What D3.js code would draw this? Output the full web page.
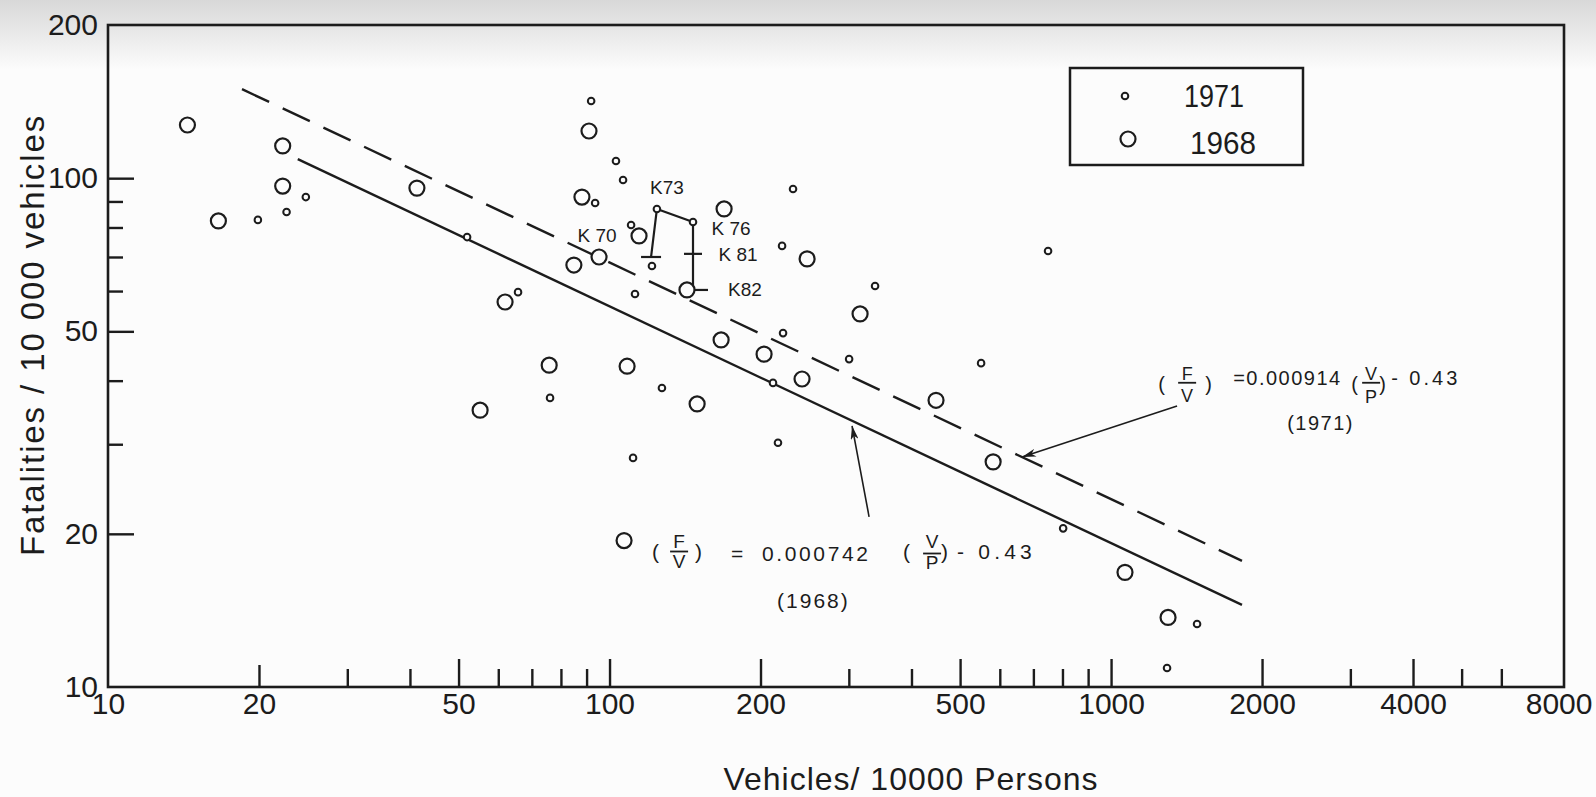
<!DOCTYPE html>
<head>
<meta charset="utf-8">
<title>Fatalities vs vehicles</title>
<script src="https://cdn.jsdelivr.net/npm/d3@7"></script>
<style>
  body { margin: 0; background: #fcfcfc; }
  svg { display: block; }
  text { font-family: "Liberation Sans", Arial, sans-serif; fill: #1c1c1c; }
</style>
</head>
<body>
<div id="container"></div>
<script>

// Axes
const xTickValues = [10, 20, 30, 40, 50, 60, 70, 80, 90, 100, 200, 300, 400, 500, 600, 700, 800, 900,
                     1000, 2000, 3000, 4000, 5000, 6000, 8000];
const xLabelValues = [10, 20, 50, 100, 200, 500, 1000, 2000, 4000, 8000];
const yTickValues = [10, 20, 30, 40, 50, 60, 70, 80, 90, 100, 200];
const yLabelValues = [10, 20, 50, 100, 200];

// 1968 (gros cercles)
const veh1968 = [14.4, 22.3, 22.3, 16.6, 41.3, 91.0, 88.1, 84.9, 95.3, 114.5, 61.9, 75.8, 108.4, 55.2,
                 106.9, 169.2, 247.7, 142.7, 315.9, 166.9, 203.3, 242.0, 149.5, 447.7, 581.9, 1066, 1299];
const fat1968 = [127.2, 115.7, 96.5, 82.4, 95.6, 123.8, 91.8, 67.5, 70.0, 77.0, 57.1, 42.9, 42.7, 35.0,
                 19.4, 87.0, 69.4, 60.3, 54.1, 48.1, 45.1, 40.3, 36.0, 36.6, 27.7, 16.8, 13.7];

// 1971 (petits cercles)
const veh1971 = [91.9, 24.8, 22.7, 19.9, 52.0, 103.0, 106.4, 93.6, 110.4, 112.4, 65.7, 76.1, 232.2, 124.3,
                 146.7, 121.5, 220.8, 338.4, 221.8, 300.4, 550.6, 748.8, 127.2, 211.8, 216.7, 111.4,
                 802.5, 1484, 1293];
const fat1971 = [141.8, 91.8, 85.8, 82.8, 76.6, 108.1, 99.2, 89.4, 80.9, 59.2, 59.7, 37.0, 95.2, 87.0,
                 82.0, 67.2, 73.6, 61.4, 49.6, 44.1, 43.3, 71.9, 38.7, 39.6, 30.2, 28.2, 20.5, 13.3, 10.9];

// trajectoire K (1970 -> 1982)
const kLabels = ["K 70", "K73", "K 76", "K 81", "K82"];
const kVeh = [121.0, 124.3, 146.7, 146.7, 146.7];
const kFat = [70.0, 87.0, 82.0, 71.0, 60.3];

// droites de régression : 1968 (continue), 1971 (tirets)
const fitYears = ["1968", "1971"];
const fitVeh0 = [23.9, 18.5];
const fitFat0 = [109, 149.6];
const fitVeh1 = [1824, 1824];
const fitFat1 = [14.5, 17.7];
const arrowVeh = [304.5, 664.5];   // pointe des flèches sur chaque droite

const ink = "#1c1c1c";
const W = 1596, H = 797;
const mLeft = 108, mRight = 1564, mTop = 25, mBottom = 687;

const svg = d3.select("#container").append("svg")
    .attr("width", W).attr("height", H);

// ombre du scan en haut
const defs = svg.append("defs");
const grad = defs.append("linearGradient")
    .attr("id", "shade").attr("x1", 0).attr("y1", 0).attr("x2", 0).attr("y2", 1);
grad.append("stop").attr("offset", 0).attr("stop-color", "#d8d8d8");
grad.append("stop").attr("offset", 1).attr("stop-color", "#fcfcfc");
svg.append("rect").attr("x", 0).attr("y", 0).attr("width", W).attr("height", 70).attr("fill", "url(#shade)");

defs.append("marker")
    .attr("id", "head").attr("viewBox", "0 0 14 8")
    .attr("refX", 14).attr("refY", 4)
    .attr("markerWidth", 14).attr("markerHeight", 8)
    .attr("markerUnits", "userSpaceOnUse")
    .attr("orient", "auto")
    .append("path").attr("d", "M0,0 L14,4 L0,8 L4,4 Z").attr("fill", ink);

// Échelles
const x = d3.scaleLog().domain([10, 8000]).range([mLeft, mRight]);
const y = d3.scaleLog().domain([10, 200]).range([mBottom, mTop]);

// Axe x
const xMajor = [50, 100, 200, 500, 1000, 2000, 4000];
const gx = svg.append("g").attr("transform", `translate(0,${mBottom})`)
    .call(d3.axisBottom(x).tickValues(xTickValues).tickSize(-18).tickPadding(6)
        .tickFormat(d => xLabelValues.includes(d) ? d : ""));
gx.select(".domain").remove();
gx.selectAll(".tick line")
    .attr("stroke", ink).attr("stroke-width", 2.4)
    .attr("y2", d => (d === 10 || d === 8000) ? 0 : xMajor.includes(d) ? -28 : d === 20 ? -22 : -18);
gx.selectAll(".tick text")
    .attr("font-size", 30).attr("font-family", "'Liberation Sans', Arial, sans-serif").attr("fill", ink);
// le dernier libellé reste dans la page
gx.selectAll(".tick text").filter(d => d === 8000)
    .attr("text-anchor", "end").attr("x", 28);

// Axe y
const yMajor = [20, 50, 100];
const gy = svg.append("g").attr("transform", `translate(${mLeft},0)`)
    .call(d3.axisLeft(y).tickValues(yTickValues).tickSize(-15).tickPadding(10)
        .tickFormat(d => yLabelValues.includes(d) ? d : ""));
gy.select(".domain").remove();
gy.selectAll(".tick line")
    .attr("stroke", ink).attr("stroke-width", 2.4)
    .attr("x2", d => (d === 10 || d === 200) ? 0 : yMajor.includes(d) ? 26 : 15);
gy.selectAll(".tick text")
    .attr("font-size", 30).attr("font-family", "'Liberation Sans', Arial, sans-serif").attr("fill", ink);

// Cadre
svg.append("rect")
    .attr("x", mLeft).attr("y", mTop).attr("width", mRight - mLeft).attr("height", mBottom - mTop)
    .attr("fill", "none").attr("stroke", ink).attr("stroke-width", 2.6);

// Titres
svg.append("text")
    .attr("x", 911).attr("y", 790).attr("text-anchor", "middle")
    .attr("font-size", 32).attr("letter-spacing", 1)
    .text("Vehicles/ 10000 Persons");
svg.append("text")
    .attr("transform", "translate(44,335) rotate(-90)").attr("text-anchor", "middle")
    .attr("font-size", 33).attr("letter-spacing", 1.9)
    .text("Fatalities / 10 000 vehicles");

// Droites
const fits = fitYears.map((yr, i) => ({
    yr,
    p0: [x(fitVeh0[i]), y(fitFat0[i])],
    p1: [x(fitVeh1[i]), y(fitFat1[i])]
}));
svg.selectAll(".fit").data(fits).enter().append("line")
    .attr("class", "fit")
    .attr("x1", d => d.p0[0]).attr("y1", d => d.p0[1])
    .attr("x2", d => d.p1[0]).attr("y2", d => d.p1[1])
    .attr("stroke", ink).attr("stroke-width", 2.4)
    .attr("stroke-dasharray", d => d.yr === "1971" ? "30,15" : null);

// Flèches vers les droites
const tailOffset = {"1968": [17, 96], "1971": [155, -51]};
fits.forEach((f, i) => {
    const px = x(arrowVeh[i]);
    const t = (px - f.p0[0]) / (f.p1[0] - f.p0[0]);
    const py = f.p0[1] + t * (f.p1[1] - f.p0[1]);
    f.tip = [px, py];
    f.tail = [px + tailOffset[f.yr][0], py + tailOffset[f.yr][1]];
    svg.append("line")
        .attr("x1", f.tail[0]).attr("y1", f.tail[1])
        .attr("x2", px).attr("y2", py + (f.yr === "1968" ? 5 : 0))
        .attr("stroke", ink).attr("stroke-width", 1.6)
        .attr("marker-end", "url(#head)");
});

// Trajectoire K
const kPts = kLabels.map((k, i) => ({k, px: x(kVeh[i]), py: y(kFat[i])}));
svg.append("path")
    .attr("d", d3.line().x(d => d.px).y(d => d.py)(kPts))
    .attr("fill", "none").attr("stroke", ink).attr("stroke-width", 2.2);
const kBar = {"K 70": [-10, 10], "K 81": [-9, 9], "K82": [0, 15]};
kPts.filter(d => kBar[d.k]).forEach(d => {
    svg.append("line")
        .attr("x1", d.px + kBar[d.k][0]).attr("x2", d.px + kBar[d.k][1])
        .attr("y1", d.py).attr("y2", d.py)
        .attr("stroke", ink).attr("stroke-width", 2.2);
});
const kOff = {"K 70": [-54, -15], "K73": [10, -15], "K 76": [38, 13], "K 81": [45, 7], "K82": [52, 6]};
svg.selectAll(".klab").data(kPts).enter().append("text")
    .attr("class", "klab")
    .attr("x", d => d.px + kOff[d.k][0]).attr("y", d => d.py + kOff[d.k][1])
    .attr("text-anchor", "middle").attr("font-size", 19)
    .text(d => d.k);

// Points
const pts1968 = veh1968.map((v, i) => ({v, f: fat1968[i]}));
const pts1971 = veh1971.map((v, i) => ({v, f: fat1971[i]}));
svg.selectAll(".p68").data(pts1968).enter().append("circle")
    .attr("class", "p68")
    .attr("cx", d => x(d.v)).attr("cy", d => y(d.f)).attr("r", 7.5)
    .attr("fill", "#fcfcfc").attr("stroke", ink).attr("stroke-width", 2.2);
svg.selectAll(".p71").data(pts1971).enter().append("circle")
    .attr("class", "p71")
    .attr("cx", d => x(d.v)).attr("cy", d => y(d.f)).attr("r", 3.3)
    .attr("fill", "#fcfcfc").attr("stroke", ink).attr("stroke-width", 2);

// Équations
function frac(g, cx, yTop, yBar, yBot, a, b, size) {
    g.append("text").attr("x", cx).attr("y", yTop).attr("text-anchor", "middle").attr("font-size", size).text(a);
    g.append("line").attr("x1", cx - 9).attr("x2", cx + 9).attr("y1", yBar).attr("y2", yBar)
        .attr("stroke", ink).attr("stroke-width", 1.8);
    g.append("text").attr("x", cx).attr("y", yBot).attr("text-anchor", "middle").attr("font-size", size).text(b);
}
function piece(g, px, py, s, size, ls) {
    g.append("text").attr("x", px).attr("y", py).attr("font-size", size)
        .attr("letter-spacing", ls || 0).text(s);
}

// 1968
const e68 = svg.append("g").attr("transform", `translate(${x(124.4)},${y(18.8)})`);
piece(e68, -5, 11, "(", 21);
frac(e68, 22, 0, 4, 20, "F", "V", 19);
piece(e68, 38, 11, ")", 21);
piece(e68, 74, 13, "=", 21);
piece(e68, 105, 13, "0.000742", 21, 2.6);
piece(e68, 246, 11, "(", 21);
frac(e68, 275, 0, 6, 21, "V", "P", 19);
piece(e68, 284, 11, ")", 21);
piece(e68, 300, 11, "- 0.43", 21, 4.2);
piece(e68, 120, 60, "(1968)", 21, 2);

// 1971
const e71 = svg.append("g").attr("transform", `translate(${x(1270)},${y(39.8)})`);
piece(e71, -5, 9, "(", 20);
frac(e71, 24, -2, 1, 20, "F", "V", 18);
piece(e71, 42, 9, ")", 20);
piece(e71, 70, 3, "=0.000914", 20, 1.5);
piece(e71, 188, 9, "(", 20);
frac(e71, 208, -2, 1, 21, "V", "P", 18);
piece(e71, 216, 9, ")", 20);
piece(e71, 228, 3, "- 0.43", 20, 3);
piece(e71, 124, 48, "(1971)", 20, 1.5);

// Légende
const leg = svg.append("g");
leg.append("rect").attr("x", 1070).attr("y", 68).attr("width", 233).attr("height", 97)
    .attr("fill", "#fcfcfc").attr("stroke", ink).attr("stroke-width", 2.5);
leg.append("circle").attr("cx", 1125).attr("cy", 96).attr("r", 3.3)
    .attr("fill", "none").attr("stroke", ink).attr("stroke-width", 2);
leg.append("circle").attr("cx", 1128).attr("cy", 139).attr("r", 7.5)
    .attr("fill", "none").attr("stroke", ink).attr("stroke-width", 2.2);
leg.append("text").attr("x", 1184).attr("y", 107).attr("font-size", 32)
    .attr("textLength", 60).attr("lengthAdjust", "spacingAndGlyphs").text(fitYears[1]);
leg.append("text").attr("x", 1190).attr("y", 154).attr("font-size", 32)
    .attr("textLength", 66).attr("lengthAdjust", "spacingAndGlyphs").text(fitYears[0]);

</script>
</body>
